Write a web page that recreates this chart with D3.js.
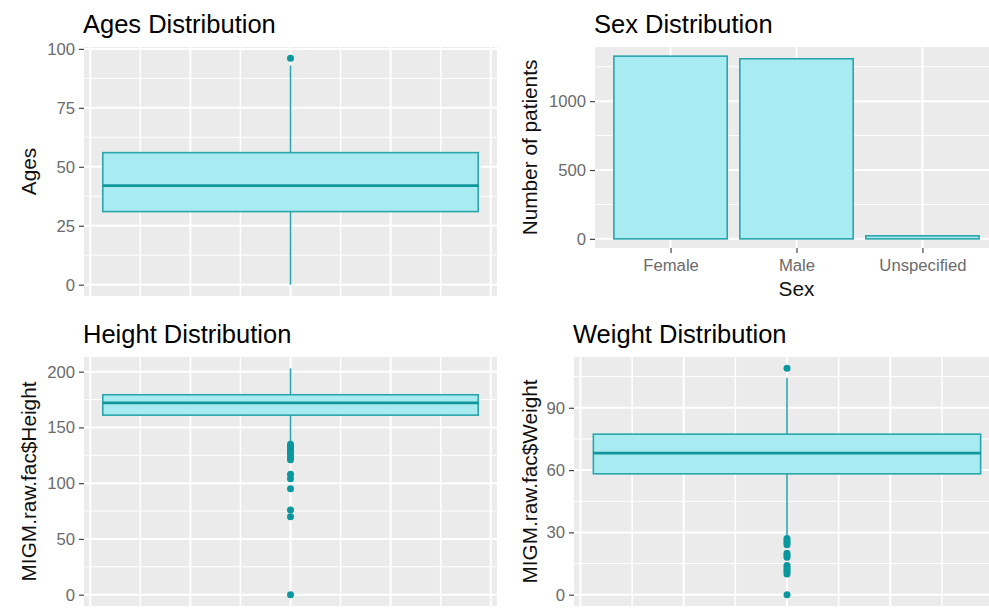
<!DOCTYPE html>
<html>
<head>
<meta charset="utf-8">
<script src="https://cdn.jsdelivr.net/npm/d3@7"></script>
<style>
  html, body { margin: 0; padding: 0; background: #ffffff; }
  svg { display: block; font-family: "Liberation Sans", Arial, sans-serif; }
</style>
</head>
<body>
<svg id="chart" width="989" height="614"></svg>
<script>
// Box summaries: [lower whisker, Q1, median, Q3, upper whisker]
const ageBox = [0, 31, 42, 56, 93];
const ageOutliers = [96];

const heightBox = [137, 161, 172, 179.3, 203];
const heightOutliers = [135, 133, 131, 129, 127, 125, 123, 121, 108, 104, 95, 76, 70, 0];

const weightBox = [28.5, 58.2, 68.2, 77.3, 104.5];
const weightOutliers = [109, 27, 26, 25, 24, 20, 19, 18, 14, 13, 12, 11, 10, 0];

// Patient counts by sex
const sexCategories = ["Female", "Male", "Unspecified"];
const sexCounts = [1327, 1308, 22];

const ageTicks = [0, 25, 50, 75, 100];
const heightTicks = [0, 50, 100, 150, 200];
const weightTicks = [0, 30, 60, 90];
const countTicks = [0, 500, 1000];

const PANEL_BG = "#EBEBEB";
const FILL = "#A8EBF0";
const LINE = "#2BA5AB";
const MEDIAN = "#11969C";
const POINT = "#0A979D";
const TICK_TEXT = "#6b6b6b";
const TICK_MARK = "#444";

const svg = d3.select("#chart");

function expandDomain(lo, hi) {
  const pad = (hi - lo) * 0.05;
  return [lo - pad, hi + pad];
}

function panelFrame(g, box, y, majors, minors, title, yTitle, yTitleX) {
  const [x0, y0, x1, y1] = box;
  g.append("rect").attr("x", x0).attr("y", y0)
    .attr("width", x1 - x0).attr("height", y1 - y0).attr("fill", PANEL_BG);

  g.selectAll(".hmin").data(minors).join("line")
    .attr("x1", x0).attr("x2", x1)
    .attr("y1", d => y(d)).attr("y2", d => y(d))
    .attr("stroke", "#fff").attr("stroke-width", 1);
  g.selectAll(".hmaj").data(majors).join("line")
    .attr("x1", x0).attr("x2", x1)
    .attr("y1", d => y(d)).attr("y2", d => y(d))
    .attr("stroke", "#fff").attr("stroke-width", 2);

  // y axis ticks and labels
  const axis = d3.axisLeft(y).tickValues(majors).tickFormat(d3.format("d"))
    .tickSize(5).tickPadding(4);
  const ag = g.append("g").attr("transform", `translate(${x0},0)`).call(axis);
  ag.select(".domain").remove();
  ag.selectAll(".tick line").attr("stroke", TICK_MARK).attr("stroke-width", 1.2);
  ag.selectAll(".tick text").attr("fill", TICK_TEXT)
    .style("font-size", "16.7px").style("font-family", "'Liberation Sans', Arial, sans-serif");

  // panel title
  g.append("text").attr("x", x0 - 1).attr("y", y0 - 14)
    .attr("fill", "#000").style("font-size", "25.5px").text(title);

  // rotated y-axis title
  g.append("text")
    .attr("transform", `translate(${yTitleX},${(y0 + y1) / 2}) rotate(-90)`)
    .attr("text-anchor", "middle").attr("dy", "0.35em")
    .attr("fill", "#111").style("font-size", "20.8px").text(yTitle);
}

function boxPanel(box, stats, outliers, ticks, title, yTitle, yTitleX) {
  const [x0, y0, x1, y1] = box;
  const g = svg.append("g");
  const all = stats.concat(outliers);
  const y = d3.scaleLinear().domain(expandDomain(d3.min(all), d3.max(all))).range([y1, y0]);
  // single box centred at x = 0 with width 0.75
  const x = d3.scaleLinear().domain(expandDomain(-0.375, 0.375)).range([x0, x1]);

  const step = ticks[1] - ticks[0];
  const minors = ticks.map(t => t + step / 2).filter(v => y(v) > y0 && y(v) < y1);
  const lowMinor = ticks[0] - step / 2;
  if (y(lowMinor) < y1) minors.push(lowMinor);

  panelFrame(g, box, y, ticks, minors, title, yTitle, yTitleX);

  const xMinor = [-0.3, -0.1, 0.1, 0.3];
  const xMajor = [-0.4, -0.2, 0, 0.2, 0.4];
  g.selectAll(".vmin").data(xMinor).join("line")
    .attr("x1", d => x(d)).attr("x2", d => x(d)).attr("y1", y0).attr("y2", y1)
    .attr("stroke", "#fff").attr("stroke-width", 1.5);
  g.selectAll(".vmaj").data(xMajor).join("line")
    .attr("x1", d => x(d)).attr("x2", d => x(d)).attr("y1", y0).attr("y2", y1)
    .attr("stroke", "#fff").attr("stroke-width", 2);

  const [lo, q1, med, q3, hi] = stats;
  const cx = x(0);
  g.append("line").attr("x1", cx).attr("x2", cx).attr("y1", y(q3)).attr("y2", y(hi))
    .attr("stroke", LINE).attr("stroke-width", 1.6);
  g.append("line").attr("x1", cx).attr("x2", cx).attr("y1", y(q1)).attr("y2", y(lo))
    .attr("stroke", LINE).attr("stroke-width", 1.6);
  g.append("rect").attr("x", x(-0.375)).attr("y", y(q3))
    .attr("width", x(0.375) - x(-0.375)).attr("height", y(q1) - y(q3))
    .attr("fill", FILL).attr("stroke", LINE).attr("stroke-width", 1.6);
  g.append("line").attr("x1", x(-0.375)).attr("x2", x(0.375))
    .attr("y1", y(med)).attr("y2", y(med))
    .attr("stroke", MEDIAN).attr("stroke-width", 2.8);

  g.selectAll(".out").data(outliers).join("circle")
    .attr("cx", cx).attr("cy", d => y(d)).attr("r", 3.5).attr("fill", POINT);
}

function barPanel(box) {
  const [x0, y0, x1, y1] = box;
  const g = svg.append("g");
  const y = d3.scaleLinear().domain(expandDomain(0, d3.max(sexCounts))).range([y1, y0]);
  const x = d3.scalePoint().domain(sexCategories).range([x0, x1]).padding(0.6);
  const bw = x.step() * 0.9;

  panelFrame(g, box, y, countTicks, [250, 750, 1250], "Sex Distribution", "Number of patients", 530);

  g.selectAll(".vmaj").data(sexCategories).join("line")
    .attr("x1", d => x(d)).attr("x2", d => x(d)).attr("y1", y0).attr("y2", y1)
    .attr("stroke", "#fff").attr("stroke-width", 2);

  g.selectAll(".bar").data(sexCategories).join("rect")
    .attr("x", d => x(d) - bw / 2)
    .attr("y", (d, i) => y(sexCounts[i]))
    .attr("width", bw)
    .attr("height", (d, i) => y(0) - y(sexCounts[i]))
    .attr("fill", FILL).attr("stroke", LINE).attr("stroke-width", 1.6);

  const ax = d3.axisBottom(x).tickSize(5).tickPadding(6);
  const ag = g.append("g").attr("transform", `translate(0,${y1})`).call(ax);
  ag.select(".domain").remove();
  ag.selectAll(".tick line").attr("stroke", TICK_MARK).attr("stroke-width", 1.2);
  ag.selectAll(".tick text").attr("fill", TICK_TEXT)
    .style("font-size", "16.7px").style("font-family", "'Liberation Sans', Arial, sans-serif");

  g.append("text").attr("x", (x0 + x1) / 2).attr("y", 296)
    .attr("text-anchor", "middle").attr("fill", "#111")
    .style("font-size", "20.8px").text("Sex");
}

boxPanel([84, 47, 497, 296], ageBox, ageOutliers, ageTicks,
  "Ages Distribution", "Ages", 29);
barPanel([595, 47, 998, 248]);
boxPanel([84, 357, 497, 606], heightBox, heightOutliers, heightTicks,
  "Height Distribution", "MIGM.raw.fac$Height", 29);
boxPanel([574, 357, 1000, 606], weightBox, weightOutliers, weightTicks,
  "Weight Distribution", "MIGM.raw.fac$Weight", 530);
</script>
</body>
</html>
